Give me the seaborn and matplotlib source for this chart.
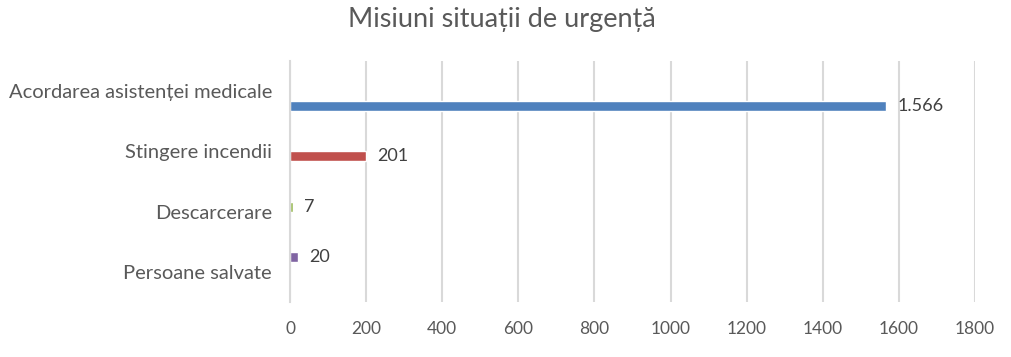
import matplotlib
matplotlib.use("Agg")
import matplotlib.pyplot as plt
import seaborn as sns
import pandas as pd

categories = ["Acordarea asistenței medicale", "Stingere incendii", "Descarcerare", "Persoane salvate"]
values = [1566, 201, 7, 20]
colors = ["#4F81BD", "#C0504D", "#9BBB59", "#8064A2"]
x_ticks = [0, 200, 400, 600, 800, 1000, 1200, 1400, 1600, 1800]
title = "Misiuni situații de urgență"

sns.set_theme(style="white")
plt.rcParams["font.family"] = ["Lato", "DejaVu Sans"]

df = pd.DataFrame({"cat": categories, "val": values})

fig = plt.figure(figsize=(10.12, 3.57), dpi=100)
ax = fig.add_axes([290/1012, 1-302/357, (975-290)/1012, (302-61)/357])

hue_order = categories[::-1]
palette = dict(zip(categories, colors))
sns.barplot(data=df, y="cat", x="val", hue="cat", hue_order=hue_order, order=categories,
            palette=palette, dodge=True, width=0.667, legend=False, ax=ax, saturation=1)

for cont in ax.containers:
    ax.bar_label(cont, labels=[f"{v:,.0f}".replace(",", ".") for v in cont.datavalues],
                 padding=8, fontsize=13, color="#404040")

ax.set_xlim(0, 1800)
ax.set_xticks(x_ticks)
ax.set_xticklabels([str(t) for t in x_ticks])
ax.set_ylim(3.5, -0.5)
ax.set_xlabel("")
ax.set_ylabel("")
ax.grid(axis="x", color="#D9D9D9", linewidth=1.5)
ax.grid(axis="y", visible=False)
ax.set_axisbelow(True)
for s in ["top", "right", "bottom"]:
    ax.spines[s].set_visible(False)
ax.spines["left"].set_color("#D9D9D9")
ax.spines["left"].set_linewidth(1.5)
ax.tick_params(axis="both", length=0, colors="#595959", labelsize=12.5)
ax.tick_params(axis="x", pad=14)
ax.tick_params(axis="y", pad=13)
for lab in ax.get_yticklabels():
    lab.set_fontsize(14.5)

fig.text(502/1012, 1-20/357, title, ha="center", va="center", fontsize=19.5, color="#595959")

fig.savefig("out.png", dpi=100, facecolor="white")
